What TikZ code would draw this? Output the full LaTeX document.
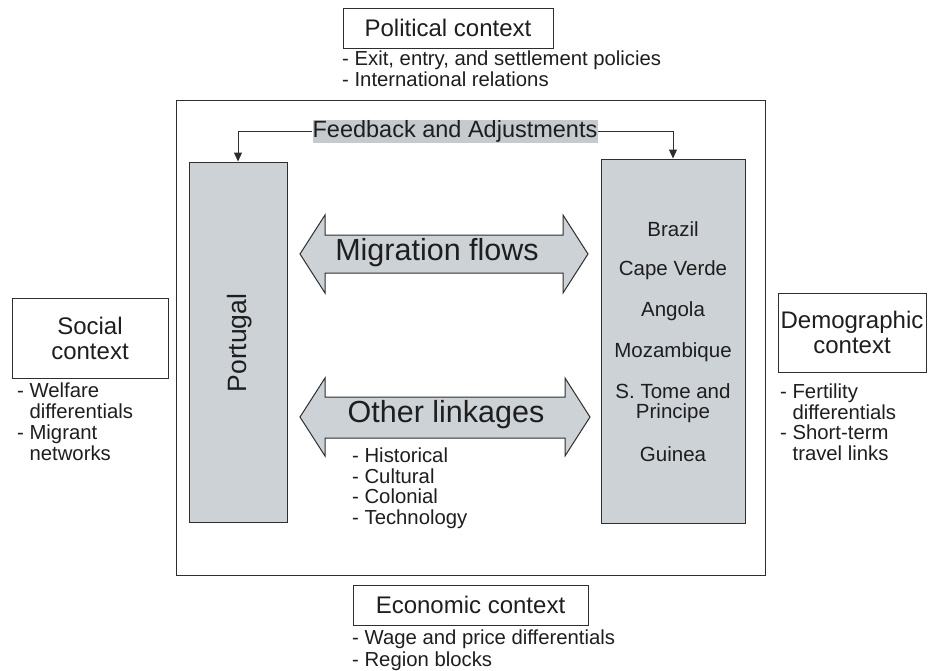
\documentclass[tikz,border=0pt]{standalone}
\usepackage{fontspec}
\setmainfont{Liberation Sans}
\usetikzlibrary{arrows.meta}
\definecolor{boxfill}{HTML}{CDD2D7}
\definecolor{linec}{HTML}{2E2E2E}
\definecolor{txt}{HTML}{1E1E1E}
\begin{document}
\begin{tikzpicture}[x=1pt,y=-1pt,
  ctxbox/.style={draw=linec,line width=1pt,fill=white,inner sep=0,align=center,text=txt,font=\fontsize{24}{25}\selectfont},
  graybox/.style={draw=linec,line width=1pt,fill=boxfill,inner sep=0},
  bullets/.style={anchor=north west,inner sep=0,align=left,text=txt,font=\fontsize{20.3}{20.5}\selectfont},
  country/.style={inner sep=0,text=txt,font=\fontsize{20.5}{20.5}\selectfont,align=center},
  bigarrow/.style={draw=linec,line width=1pt,fill=boxfill},
  arrowtext/.style={inner sep=0,text=txt,font=\fontsize{30.5}{32}\selectfont},
  fbline/.style={draw=linec,line width=1pt,-{Triangle[width=8pt,length=9pt]}}
]
\useasboundingbox (0,0) rectangle (929,670);
\fill[white] (0,0) rectangle (929,670);

% outer frame
\node[draw=linec,line width=1pt,minimum width=589,minimum height=475,inner sep=0] (frame) at (470.5,337.5) {};

% context boxes
\node[ctxbox,minimum width=210,minimum height=40] (pol) at (448,28) {Political context};
\node[bullets] (polb) at (342,51) {- Exit, entry, and settlement policies\\- International relations};

\node[ctxbox,minimum width=156,minimum height=80] (soc) at (90,338) {Social\\context};
\node[bullets,font=\fontsize{20.3}{20.7}\selectfont] (socb) at (17,383) {- Welfare\\\phantom{-} differentials\\- Migrant\\\phantom{-} networks};

\node[ctxbox,minimum width=148,minimum height=79] (dem) at (852,332.5) {Demographic\\context};
\node[bullets,font=\fontsize{20.3}{20.5}\selectfont] (demb) at (780,384) {- Fertility\\\phantom{-} differentials\\- Short-term\\\phantom{-} travel links};

\node[ctxbox,minimum width=235,minimum height=40] (eco) at (470.5,605) {Economic context};
\node[bullets,font=\fontsize{20.3}{22}\selectfont] (ecob) at (352,630) {- Wage and price differentials\\- Region blocks};

% inner boxes
\node[graybox,minimum width=98,minimum height=360] (port) at (238,342) {};
\node[rotate=90,inner sep=0,text=txt,font=\fontsize{26.5}{28}\selectfont] (portl) at (240,343) {Portugal};

\node[graybox,minimum width=144,minimum height=364] (dest) at (673,341) {};
\node[country] (c1) at (673,229) {Brazil};
\node[country] (c2) at (673,270) {Cape Verde};
\node[country] (c3) at (673,311) {Angola};
\node[country] (c4) at (673,352) {Mozambique};
\node[country] (c5) at (673,403) {S. Tome and\\Principe};
\node[country] (c6) at (673,454) {Guinea};

% feedback
\node[fill=boxfill!90!gray,minimum width=285,minimum height=23,inner sep=0,text=txt,font=\fontsize{23.5}{25}\selectfont] (fb) at (455,131) {Feedback and Adjustments};
\draw[fbline] (fb.west) -| (port.north);
\draw[fbline] (fb.east) -| (dest.north);

% migration flows arrow
\draw[bigarrow] (300,254) -- (325,215) -- (325,235) -- (563,235) -- (563,215) -- (588,254) -- (563,293) -- (563,273) -- (325,273) -- (325,293) -- cycle;
\node[arrowtext] (mig) at (437,253) {Migration flows};

% other linkages arrow
\draw[bigarrow] (300,417) -- (325,378) -- (325,397) -- (565,397) -- (565,378) -- (590,417) -- (565,456) -- (565,438) -- (325,438) -- (325,456) -- cycle;
\node[arrowtext] (oth) at (446,415) {Other linkages};
\node[bullets,font=\fontsize{20.3}{20.4}\selectfont] (othb) at (352,448) {- Historical\\- Cultural\\- Colonial\\- Technology};
\end{tikzpicture}
\end{document}
